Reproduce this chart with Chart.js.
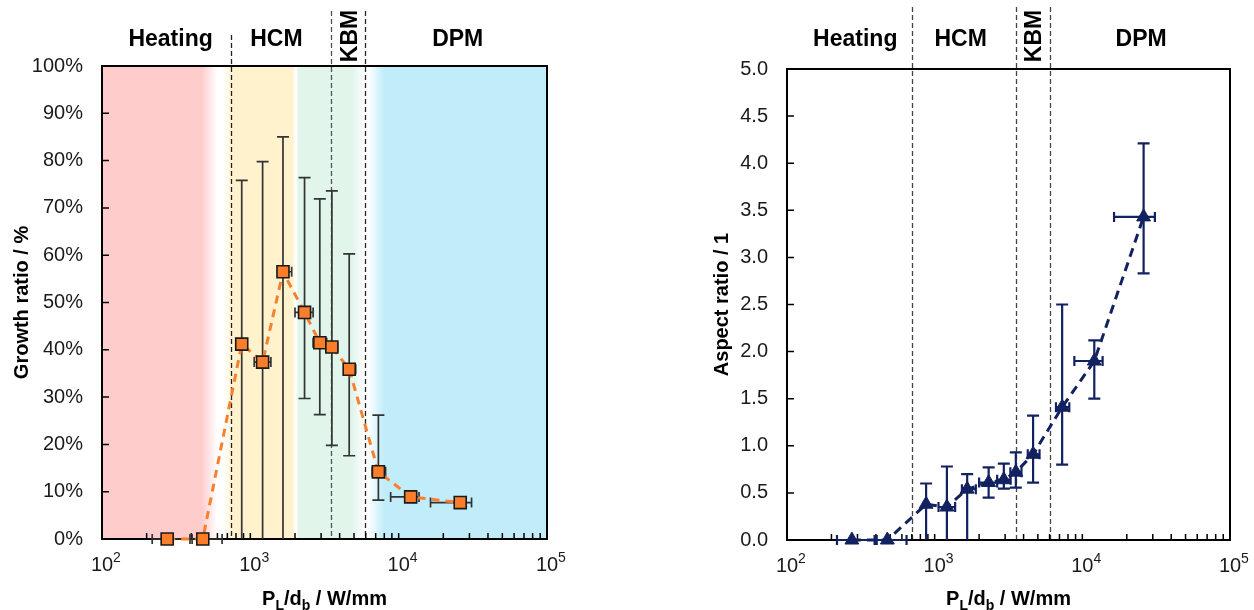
<!DOCTYPE html>
<html>
<head>
<meta charset="utf-8">
<script src="https://cdn.jsdelivr.net/npm/chart.js@4.4.1/dist/chart.umd.min.js"></script>
<style>
  html, body { margin: 0; padding: 0; background: #fff; }
  #wrap { position: relative; width: 1254px; height: 610px; }
  canvas { position: absolute; top: 0; }
  #growth { left: 0; }
  #aspect { left: 627px; }
</style>
</head>
<body>
<div id="wrap">
  <canvas id="growth" width="627" height="610"></canvas>
  <canvas id="aspect" width="627" height="610"></canvas>
</div>
<script>
const FONT = '"Liberation Sans", Arial, sans-serif';

// P_L/d_b in W/mm, same samples in both plots
const powerPerDiameter = [275, 478, 875, 1210, 1660, 2320, 2940, 3545, 4640, 7300, 12050, 26000];
const powerLow  = [218, 405, null, 1062, 1530, 2000, 2650, 3255, 4270, 6630, 8830, 16400];
const powerHigh = [392, 645, null, 1376, 1900, 2650, 3270, 3870, 5130, 8160, 13720, 31000];

// growth ratio in %
const growthRatio = [0, 0, 41.2, 37.4, 56.5, 47.9, 41.5, 40.6, 35.9, 14.2, 8.9, 7.7];
const growthLow  = [null, null, 0, 0, 0, 29.7, 26.3, 19.8, 17.6, 8.2, null, null];
const growthHigh = [null, null, 75.8, 79.8, 85.0, 76.4, 71.9, 73.6, 60.3, 26.2, null, null];

// aspect ratio
const aspectRatio = [0, 0, 0.38, 0.35, 0.54, 0.61, 0.64, 0.72, 0.91, 1.41, 1.90, 3.43];
const aspectLow  = [null, null, 0, 0, 0, 0.45, 0.545, 0.555, 0.61, 0.80, 1.50, 2.83];
const aspectHigh = [null, null, 0.60, 0.78, 0.70, 0.77, 0.81, 0.93, 1.32, 2.50, 2.12, 4.21];

// regimes
const regionNames = ['Heating', 'HCM', 'KBM', 'DPM'];
const regionLabelAt = [290, 1500, 4650, 25000];
const growthBounds = [745, 3500, 5900];
const aspectBounds = [700, 3550, 6050];
const xDecades = [100, 1000, 10000, 100000];

const growthBands = [
  [100, '#FFCCCC'], [470, '#FFCCCC'], [600, '#FFFFFF'], [660, '#FFFFFF'], [770, '#FFF2CC'],
  [1930, '#FFF2CC'], [2010, '#FFFFFF'], [2040, '#FFFFFF'], [2110, '#E1F5EB'], [4900, '#E1F5EB'],
  [5850, '#FFFFFF'], [6200, '#FFFFFF'], [7950, '#C1EDFA'], [100000, '#C1EDFA']
];

const errorBars = {
  id: 'errorBars',
  beforeDatasetsDraw(chart) {
    const { ctx, scales: { x, y } } = chart;
    const ds = chart.data.datasets[0];
    const seg = (x1, y1, x2, y2) => { ctx.moveTo(x1, y1); ctx.lineTo(x2, y2); };
    ctx.save();
    ctx.strokeStyle = ds.errColor;
    ctx.lineWidth = ds.errWidth;
    ctx.beginPath();
    ds.data.forEach((p, i) => {
      const px = x.getPixelForValue(p.x), py = y.getPixelForValue(p.y);
      if (ds.yLow[i] != null) {
        const top = y.getPixelForValue(ds.yHigh[i]);
        const bot = y.getPixelForValue(ds.yLow[i]);
        seg(px, top, px, bot);
        seg(px - 6, top, px + 6, top);
        if (ds.yLow[i] > 0) seg(px - 6, bot, px + 6, bot);
      }
      if (ds.xLow[i] != null) {
        const l = x.getPixelForValue(ds.xLow[i]);
        const r = x.getPixelForValue(ds.xHigh[i]);
        seg(l, py, r, py);
        seg(l, py - 5, l, py + 5);
        seg(r, py - 5, r, py + 5);
      }
    });
    ctx.stroke();
    ctx.restore();
  }
};

function decor(cfg) {
  return {
    id: 'decor',
    beforeDraw(chart) {
      if (!cfg.bands) return;
      const { ctx, chartArea: a, scales: { x } } = chart;
      const g = ctx.createLinearGradient(a.left, 0, a.right, 0);
      cfg.bands.forEach(([v, c]) => {
        const t = (x.getPixelForValue(v) - a.left) / (a.right - a.left);
        g.addColorStop(Math.min(1, Math.max(0, t)), c);
      });
      ctx.save();
      ctx.fillStyle = g;
      ctx.fillRect(a.left, a.top, a.right - a.left, a.bottom - a.top);
      ctx.restore();
    },
    beforeDatasetsDraw(chart) {
      const { ctx, chartArea: a, scales: { x, y } } = chart;
      ctx.save();
      // regime boundaries
      ctx.setLineDash([5, 3]);
      ctx.lineWidth = 1.3;
      cfg.bounds.forEach((v, i) => {
        const px = Math.round(x.getPixelForValue(v)) + 0.5;
        ctx.strokeStyle = cfg.boundColors[i];
        ctx.beginPath();
        ctx.moveTo(px, cfg.boundTops[i]);
        ctx.lineTo(px, a.bottom);
        ctx.stroke();
      });
      ctx.setLineDash([]);
      // box
      ctx.strokeStyle = '#000';
      ctx.lineWidth = 2;
      ctx.strokeRect(a.left, a.top, a.right - a.left, a.bottom - a.top);
      // inner ticks
      ctx.lineWidth = 1.5;
      ctx.beginPath();
      y.ticks.forEach(t => {
        const py = y.getPixelForValue(t.value);
        ctx.moveTo(a.left, py); ctx.lineTo(a.left + 7, py);
      });
      xDecades.forEach((d, k) => {
        const n = k < xDecades.length - 1 ? 9 : 1;
        for (let m = 1; m <= n; m++) {
          const px = x.getPixelForValue(m * d);
          ctx.moveTo(px, a.bottom); ctx.lineTo(px, a.bottom - 6);
        }
      });
      ctx.stroke();
      ctx.restore();
    },
    afterDraw(chart) {
      const { ctx, chartArea: a, scales: { x } } = chart;
      ctx.save();
      ctx.fillStyle = '#1a1a1a';
      ctx.textBaseline = 'alphabetic';
      ctx.textAlign = 'left';
      // 10^n labels
      xDecades.forEach(v => {
        const px = x.getPixelForValue(v);
        ctx.font = `20px ${FONT}`;
        const w = ctx.measureText('10').width;
        ctx.fillText('10', px - w / 2, a.bottom + 32);
        ctx.font = `14px ${FONT}`;
        ctx.fillText(String(Math.round(Math.log10(v))), px + w / 2, a.bottom + 23);
      });
      // x title with subscripts
      const parts = [['P', 0], ['L', 1], ['/d', 0], ['b', 1], [' / W/mm', 0]];
      const fontOf = sub => sub ? `bold 14px ${FONT}` : `bold 20px ${FONT}`;
      let total = 0;
      parts.forEach(([t, s]) => { ctx.font = fontOf(s); total += ctx.measureText(t).width; });
      let cx = (a.left + a.right) / 2 - total / 2;
      ctx.fillStyle = '#000';
      parts.forEach(([t, s]) => {
        ctx.font = fontOf(s);
        ctx.fillText(t, cx, s ? 610 : 605);
        cx += ctx.measureText(t).width;
      });
      // y title
      ctx.font = `bold 20px ${FONT}`;
      ctx.textAlign = 'center';
      ctx.textBaseline = 'middle';
      ctx.save();
      ctx.translate(cfg.yTitleX, (a.top + a.bottom) / 2);
      ctx.rotate(-Math.PI / 2);
      ctx.fillText(cfg.yTitle, 0, 0);
      ctx.restore();
      // regime names
      ctx.font = `bold 23px ${FONT}`;
      regionNames.forEach((name, i) => {
        const px = x.getPixelForValue(regionLabelAt[i]);
        if (name === 'KBM') {
          ctx.save();
          ctx.translate(px, 36);
          ctx.rotate(-Math.PI / 2);
          ctx.textBaseline = 'middle';
          ctx.fillText(name, 0, 1);
          ctx.restore();
        } else {
          ctx.textBaseline = 'alphabetic';
          ctx.fillText(name, px, 46);
        }
      });
      ctx.restore();
    }
  };
}

function axes(yMax, yStep, yFmt, yWidth, xHeight) {
  return {
    x: {
      type: 'logarithmic', min: 100, max: 100000,
      grid: { display: false, drawTicks: false },
      border: { display: false },
      ticks: { display: false },
      afterFit: s => { s.height = xHeight; }
    },
    y: {
      min: 0, max: yMax,
      grid: { display: false, drawTicks: false },
      border: { display: false },
      ticks: { stepSize: yStep, padding: 19, color: '#1a1a1a', font: { family: FONT, size: 20 }, callback: yFmt },
      afterFit: s => { s.width = yWidth; }
    }
  };
}

new Chart(document.getElementById('growth'), {
  type: 'scatter',
  data: {
    datasets: [{
      data: powerPerDiameter.map((x, i) => ({ x, y: growthRatio[i] })),
      showLine: true,
      borderColor: '#F7802F',
      borderWidth: 3,
      borderDash: [8, 6],
      pointStyle: 'rect',
      pointRadius: 8.5,
      pointBackgroundColor: '#FA7D2A',
      pointBorderColor: '#1a1a1a',
      pointBorderWidth: 1.6,
      clip: false,
      xLow: powerLow, xHigh: powerHigh, yLow: growthLow, yHigh: growthHigh,
      errColor: '#333333', errWidth: 1.7
    }]
  },
  options: {
    responsive: false,
    animation: false,
    layout: { padding: { top: 66, right: 80, left: 0, bottom: 0 } },
    plugins: { legend: { display: false }, tooltip: { enabled: false } },
    scales: axes(100, 10, v => v + '%', 102, 71)
  },
  plugins: [decor({
    bands: growthBands,
    bounds: growthBounds,
    boundTops: [35, 11, 11],
    boundColors: ['#222', '#555', '#222'],
    yTitle: 'Growth ratio / %',
    yTitleX: 22
  }), errorBars]
});

new Chart(document.getElementById('aspect'), {
  type: 'scatter',
  data: {
    datasets: [{
      data: powerPerDiameter.map((x, i) => ({ x, y: aspectRatio[i] })),
      showLine: true,
      borderColor: '#12215F',
      borderWidth: 3,
      borderDash: [9, 6],
      pointStyle: 'triangle',
      pointRadius: 8,
      pointBackgroundColor: '#12215F',
      pointBorderColor: '#12215F',
      pointBorderWidth: 1,
      clip: false,
      xLow: powerLow, xHigh: powerHigh, yLow: aspectLow, yHigh: aspectHigh,
      errColor: '#12215F', errWidth: 2.2
    }]
  },
  options: {
    responsive: false,
    animation: false,
    layout: { padding: { top: 69, right: 24, left: 0, bottom: 0 } },
    plugins: { legend: { display: false }, tooltip: { enabled: false } },
    scales: axes(5, 0.5, v => v.toFixed(1), 160, 70)
  },
  plugins: [decor({
    bounds: aspectBounds,
    boundTops: [7, 7, 7],
    boundColors: ['#444', '#444', '#444'],
    yTitle: 'Aspect ratio / 1',
    yTitleX: 95
  }), errorBars]
});
</script>
</body>
</html>
